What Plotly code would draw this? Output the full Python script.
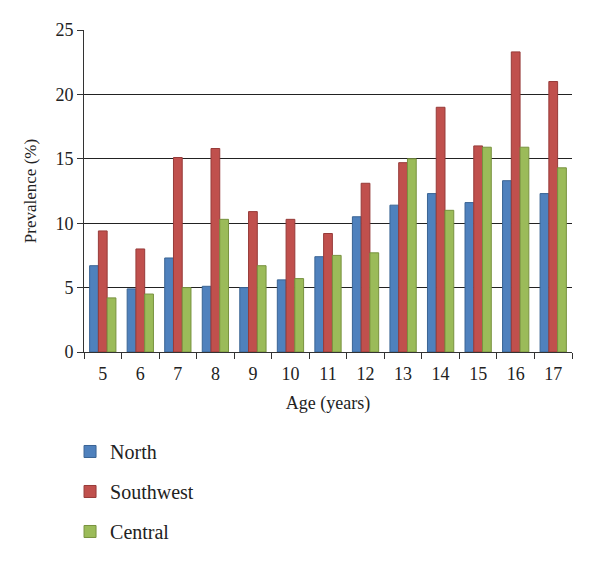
import plotly.graph_objects as go

ages = ["5", "6", "7", "8", "9", "10", "11", "12", "13", "14", "15", "16", "17"]
north = [6.7, 4.9, 7.3, 5.1, 5.0, 5.6, 7.4, 10.5, 11.4, 12.3, 11.6, 13.3, 12.3]
southwest = [9.4, 8.0, 15.1, 15.8, 10.9, 10.3, 9.2, 13.1, 14.7, 19.0, 16.0, 23.3, 21.0]
central = [4.2, 4.5, 5.0, 10.3, 6.7, 5.7, 7.5, 7.7, 15.0, 11.0, 15.9, 15.9, 14.3]

series = [
    ("North", north, "#4F81BD", "#3A6494"),
    ("Southwest", southwest, "#C0504D", "#973B39"),
    ("Central", central, "#9BBB59", "#78923F"),
]

font_family = "Liberation Serif, DejaVu Serif, serif"

fig = go.Figure()
for i, (name, vals, color, edge) in enumerate(series):
    fig.add_trace(go.Bar(
        x=ages, y=vals, name=name,
        marker=dict(color=color, line=dict(color=edge, width=1)),
        legendgroup=name,
    ))

fig.update_layout(
    width=600, height=564,
    paper_bgcolor="white", plot_bgcolor="white",
    margin=dict(l=76, r=36, t=22, b=220, autoexpand=False),
    barmode="group", bargap=0.3, bargroupgap=0.0,
    font=dict(family=font_family, size=18, color="#222222"),
    showlegend=True,
    legend=dict(
        x=-0.0286, y=-0.2484, xanchor="left", yanchor="top",
        orientation="v", tracegroupgap=11,
        font=dict(size=20, color="#222222"),
        bgcolor="rgba(0,0,0,0)",
    ),
    xaxis=dict(
        title=dict(text="Age (years)", font=dict(size=18), standoff=13),
        showline=True, linecolor="#333333", linewidth=1,
        ticks="outside", ticklen=6, tickcolor="#333333", tickson="boundaries",
        tickangle=0, ticklabelstandoff=5, showgrid=False, tickfont=dict(size=18),
    ),
    yaxis=dict(
        title=dict(text="Prevalence (%)", font=dict(size=17), standoff=14),
        range=[0, 25], tickvals=[0, 5, 10, 15, 20, 25],
        showline=True, linecolor="#333333", linewidth=1,
        ticks="outside", ticklen=6, tickcolor="#333333",
        showgrid=True, gridcolor="#222222", gridwidth=1.3,
        zeroline=False, tickfont=dict(size=18),
    ),
)

fig.write_html("out.html")
